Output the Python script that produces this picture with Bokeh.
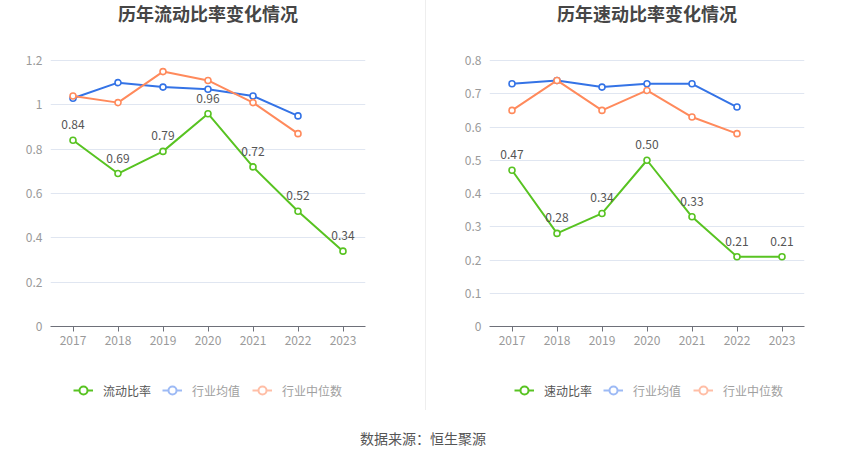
from bokeh.plotting import figure
from bokeh.models import (FactorRange, Range1d, FixedTicker, CustomJSTickFormatter,
                          Legend, LegendItem, ColumnDataSource, Div, Label)
from bokeh.layouts import row, column
from bokeh.embed import file_html
from bokeh.resources import INLINE
from bokeh.core.properties import value

years = ["2017", "2018", "2019", "2020", "2021", "2022", "2023"]
current_ratio = [0.84, 0.69, 0.79, 0.96, 0.72, 0.52, 0.34]
current_mean = [1.03, 1.10, 1.08, 1.07, 1.04, 0.95]
current_median = [1.04, 1.01, 1.15, 1.11, 1.01, 0.87]
quick_ratio = [0.47, 0.28, 0.34, 0.50, 0.33, 0.21, 0.21]
quick_mean = [0.73, 0.74, 0.72, 0.73, 0.73, 0.66]
quick_median = [0.65, 0.74, 0.65, 0.71, 0.63, 0.58]
left_ticks = [0, 0.2, 0.4, 0.6, 0.8, 1.0, 1.2]
right_ticks = [0, 0.1, 0.2, 0.3, 0.4, 0.5, 0.6, 0.7, 0.8]
left_title = "历年流动比率变化情况"
right_title = "历年速动比率变化情况"
main_names = ["流动比率", "速动比率"]
mean_name = "行业均值"
median_name = "行业中位数"
source_text = "数据来源：恒生聚源"

FONT = "Noto Sans CJK SC"
GREEN = "#58c322"
BLUE = "#3473e6"
ORANGE = "#ff8a5c"
BLUE_L = "#9dbaf5"
ORANGE_L = "#ffbea6"

FRAME_H = 326      # frame spans from top of figure down to the x axis
GRID_H = 266       # pixels from 0 to the top tick


def make_chart(title, main, mean, median, ticks, bl, br):
    top = ticks[-1] * FRAME_H / GRID_H   # leave room for the title inside the frame
    p = figure(x_range=FactorRange(*years, range_padding=0),
               y_range=Range1d(0, top),
               width=425, height=370, output_backend="svg", toolbar_location=None,
               min_border_left=bl, min_border_right=br, min_border_top=0,
               min_border_bottom=44, outline_line_color=None)

    p.xgrid.grid_line_color = None
    p.ygrid.grid_line_color = "#e0e6f1"
    p.ygrid.ticker = FixedTicker(ticks=ticks)

    p.yaxis.ticker = FixedTicker(ticks=ticks)
    p.yaxis.formatter = CustomJSTickFormatter(code="return String(Math.round(tick*10)/10)")
    p.yaxis.axis_line_color = None
    p.yaxis.major_tick_line_color = None
    p.yaxis.minor_tick_line_color = None
    p.yaxis.major_tick_out = 0
    p.yaxis.major_tick_in = 0
    p.yaxis.minor_tick_out = 0
    p.yaxis.major_label_standoff = 8
    p.yaxis.major_label_text_color = "#9a9a9a"
    p.yaxis.major_label_text_font = FONT
    p.yaxis.major_label_text_font_size = "12px"

    p.xaxis.axis_line_color = "#6e7079"
    p.xaxis.major_tick_line_color = "#6e7079"
    p.xaxis.major_tick_out = 5
    p.xaxis.major_tick_in = 0
    p.xaxis.major_label_standoff = 4
    p.xaxis.major_label_text_color = "#9a9a9a"
    p.xaxis.major_label_text_font = FONT
    p.xaxis.major_label_text_font_size = "12px"

    src_main = ColumnDataSource(dict(x=years, y=main, t=[f"{v:.2f}" for v in main]))
    src_mean = ColumnDataSource(dict(x=years[:len(mean)], y=mean))
    src_med = ColumnDataSource(dict(x=years[:len(median)], y=median))

    for src, col in ((src_mean, BLUE), (src_med, ORANGE), (src_main, GREEN)):
        p.line("x", "y", source=src, line_color=col, line_width=2)
        p.scatter("x", "y", source=src, size=6, line_color=col, line_width=1.6,
                  fill_color="white")

    p.text("x", "y", text="t", source=src_main, text_align="center",
           text_baseline="bottom", y_offset=-11, text_font=value(FONT),
           text_font_size="12px", text_color="#555555")

    frame_w = 425 - bl - br
    p.add_layout(Label(x=frame_w / 2, y=FRAME_H - 12, x_units="screen", y_units="screen",
                       text=title, text_align="center", text_baseline="middle",
                       text_font=FONT, text_font_size="18px", text_font_style="bold",
                       text_color="#464646"))
    return p


def make_legend(main_name, x0):
    f = figure(width=425, height=40, output_backend="svg", toolbar_location=None,
               x_axis_location=None, y_axis_location=None, outline_line_color=None,
               min_border=0, x_range=Range1d(0, 1), y_range=Range1d(0, 1))
    f.xgrid.grid_line_color = None
    f.ygrid.grid_line_color = None
    nan = [float("nan")]
    lg = f.line(x=nan, y=nan, line_color=GREEN, line_width=2)
    sg = f.scatter(x=nan, y=nan, line_color=GREEN, line_width=2, fill_color="white")
    lb = f.line(x=nan, y=nan, line_color=BLUE_L, line_width=2)
    sb = f.scatter(x=nan, y=nan, line_color=BLUE_L, line_width=2, fill_color="white")
    lo = f.line(x=nan, y=nan, line_color=ORANGE_L, line_width=2)
    so = f.scatter(x=nan, y=nan, line_color=ORANGE_L, line_width=2, fill_color="white")
    common = dict(orientation="horizontal", padding=0, margin=0, border_line_color=None,
                  background_fill_alpha=0, glyph_width=20, glyph_height=30,
                  label_height=14, label_standoff=10, label_text_font=FONT,
                  label_text_font_size="12px", spacing=12)
    leg1 = Legend(items=[LegendItem(label=main_name, renderers=[lg, sg])],
                  location=(x0, 5), label_text_color="#555555", **common)
    leg2 = Legend(items=[LegendItem(label=mean_name, renderers=[lb, sb]),
                         LegendItem(label=median_name, renderers=[lo, so])],
                  location=(x0 + 89, 5), label_text_color="#a0a0a0", **common)
    f.add_layout(leg1)
    f.add_layout(leg2)
    return f


p1 = make_chart(left_title, current_ratio, current_mean, current_median, left_ticks, 50, 60)
p2 = make_chart(right_title, quick_ratio, quick_mean, quick_median, right_ticks, 63, 47)
l1 = make_legend(main_names[0], 73)
l2 = make_legend(main_names[1], 88)
p2.styles = {"border-left": "1px solid #eeeeee"}
l2.styles = {"border-left": "1px solid #eeeeee"}

div = Div(text=f'<div style="text-align:center;font-size:14px;color:#555;'
               f'font-family:\'Noto Sans CJK SC\';padding-top:13px;width:836px">{source_text}</div>',
          width=850, height=48)

layout = column(row(p1, p2), row(l1, l2), div)

open("out.html", "w").write(file_html(layout, INLINE))
